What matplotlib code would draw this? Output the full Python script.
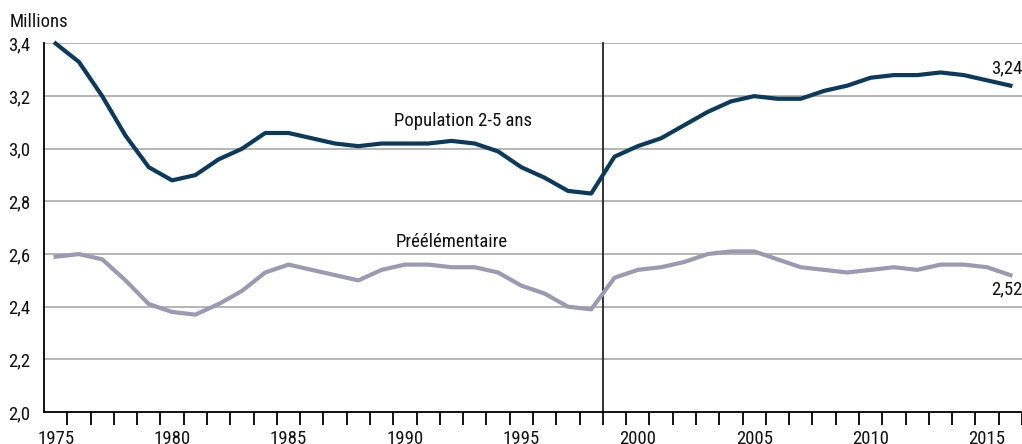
import matplotlib.pyplot as plt
import numpy as np

years = list(range(1975, 2017))
population = [3.40, 3.33, 3.20, 3.05, 2.93, 2.88, 2.90, 2.96, 3.00, 3.06,
              3.06, 3.04, 3.02, 3.01, 3.02, 3.02, 3.02, 3.03, 3.02, 2.99,
              2.93, 2.89, 2.84, 2.83, 2.97, 3.01, 3.04, 3.09, 3.14, 3.18,
              3.20, 3.19, 3.19, 3.22, 3.24, 3.27, 3.28, 3.28, 3.29, 3.28,
              3.26, 3.24]
preelem = [2.59, 2.60, 2.58, 2.50, 2.41, 2.38, 2.37, 2.41, 2.46, 2.53,
           2.56, 2.54, 2.52, 2.50, 2.54, 2.56, 2.56, 2.55, 2.55, 2.53,
           2.48, 2.45, 2.40, 2.39, 2.51, 2.54, 2.55, 2.57, 2.60, 2.61,
           2.61, 2.58, 2.55, 2.54, 2.53, 2.54, 2.55, 2.54, 2.56, 2.56,
           2.55, 2.52]
yticks = [2.0, 2.2, 2.4, 2.6, 2.8, 3.0, 3.2, 3.4]
label_years = [1975, 1980, 1985, 1990, 1995, 2000, 2005, 2010, 2015]

plt.rcParams['font.family'] = ['Roboto Condensed', 'DejaVu Sans']
navy = '#0b3a5c'
lilac = '#9a9ab2'
txt = '#111111'
fs = 13.5

fig = plt.figure(figsize=(10.22, 4.44), dpi=100)
ax = fig.add_axes([44 / 1022, 1 - 412 / 444, 1 - 44 / 1022, (412 - 43.5) / 444])

x = np.array(years)
ax.plot(x, population, color=navy, lw=3, clip_on=False, zorder=3)
ax.plot(x, preelem, color=lilac, lw=3, clip_on=False, zorder=3)

ax.set_xlim(years[0] - 0.5, years[-1] + 0.5)
ax.set_ylim(2.0, 3.4)

for v in yticks[1:]:
    ax.axhline(v, color='#b5b5b5', lw=1.4, zorder=1)
ax.set_yticks(yticks)
ax.set_yticklabels([f"{v:.1f}".replace('.', ',') for v in yticks], fontsize=fs, color=txt)
ax.tick_params(axis='y', length=0, pad=10)

ax.set_xticks(label_years)
ax.set_xticklabels([str(y) for y in label_years], fontsize=fs, color=txt)
ax.tick_params(axis='x', which='major', length=0, pad=13)
ax.set_xticks(np.arange(years[0] + 0.5, years[-1] + 1), minor=True)
ax.tick_params(axis='x', which='minor', length=9, width=1.3, direction='out', color='black')

for s in ['top', 'right']:
    ax.spines[s].set_visible(False)
ax.spines['left'].set_linewidth(1.3)
ax.spines['bottom'].set_linewidth(1.3)

ax.axvline(1998.5, ymin=-0.025, ymax=1, color='#222222', lw=1.3, clip_on=False, zorder=2)

ax.text(1992.5, 3.105, "Population 2-5 ans", fontsize=fs, ha='center', va='center', color=txt)
ax.text(1992.0, 2.645, "Préélémentaire", fontsize=fs, ha='center', va='center', color=txt)
ax.text(2016.5, 3.305, "3,24", fontsize=fs, ha='right', va='center', color=txt)
ax.text(2016.5, 2.467, "2,52", fontsize=fs, ha='right', va='center', color=txt)
fig.text(10 / 1022, 1 - 22 / 444, "Millions", fontsize=fs, ha='left', va='center', color=txt)

fig.savefig('out.png', dpi=100)
